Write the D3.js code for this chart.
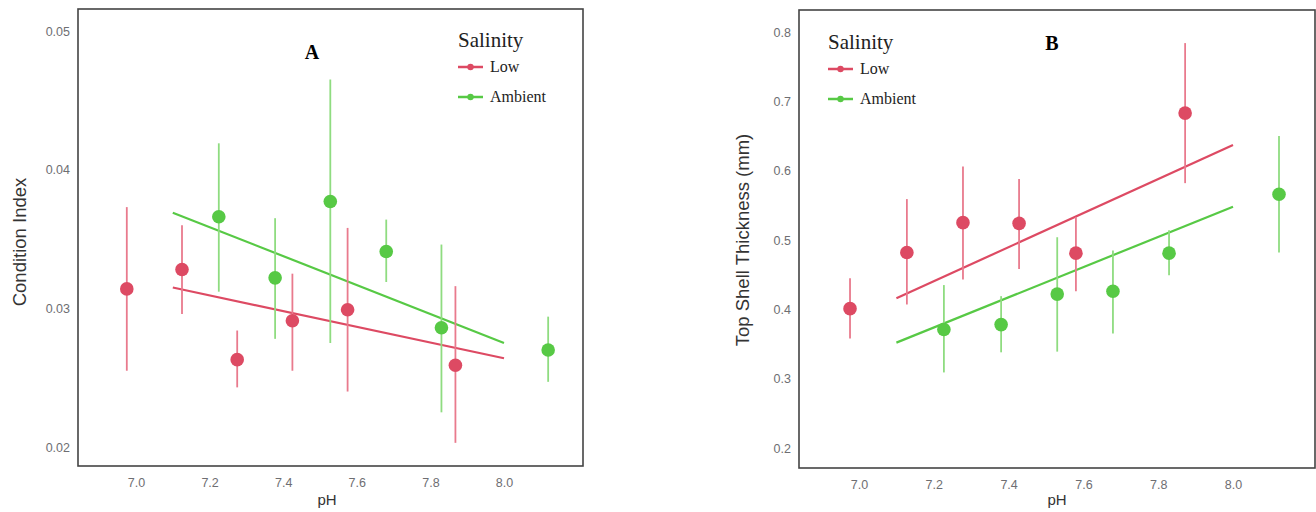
<!DOCTYPE html>
<html>
<head>
<meta charset="utf-8">
<script src="https://cdn.jsdelivr.net/npm/d3@7"></script>
<style>
  html, body { margin: 0; padding: 0; background: #fff; }
  svg { display: block; }
</style>
</head>
<body>
<svg id="chart" width="1316" height="512"></svg>
<script>
// ---------- DATA ----------
const seriesNames = ["Low", "Ambient"];
const xTicks = [7.0, 7.2, 7.4, 7.6, 7.8, 8.0];

// Panel A: Condition Index
const aLowPH   = [6.975, 7.125, 7.275, 7.425, 7.575, 7.868];
const aLowMean = [0.0314, 0.0328, 0.0263, 0.0291, 0.0299, 0.0259];
const aLowLo   = [0.0255, 0.0296, 0.0243, 0.0255, 0.0240, 0.0203];
const aLowHi   = [0.0373, 0.0360, 0.0284, 0.0325, 0.0358, 0.0316];
const aAmbPH   = [7.225, 7.378, 7.528, 7.68, 7.83, 8.12];
const aAmbMean = [0.0366, 0.0322, 0.0377, 0.0341, 0.0286, 0.0270];
const aAmbLo   = [0.0312, 0.0278, 0.0275, 0.0319, 0.0225, 0.0247];
const aAmbHi   = [0.0419, 0.0365, 0.0465, 0.0364, 0.0346, 0.0294];
const aLowFit  = [[7.1, 0.0315], [8.0, 0.0264]];
const aAmbFit  = [[7.1, 0.0369], [8.0, 0.0275]];
const aYTicks  = [0.02, 0.03, 0.04, 0.05];

// Panel B: Top Shell Thickness (mm)
const bLowPH   = [6.976, 7.128, 7.278, 7.428, 7.58, 7.872];
const bLowMean = [0.401, 0.482, 0.525, 0.524, 0.481, 0.683];
const bLowLo   = [0.358, 0.407, 0.443, 0.458, 0.426, 0.582];
const bLowHi   = [0.445, 0.559, 0.606, 0.588, 0.533, 0.784];
const bAmbPH   = [7.227, 7.38, 7.53, 7.679, 7.829, 8.123];
const bAmbMean = [0.371, 0.378, 0.422, 0.426, 0.481, 0.566];
const bAmbLo   = [0.309, 0.338, 0.339, 0.365, 0.449, 0.482];
const bAmbHi   = [0.435, 0.419, 0.504, 0.485, 0.514, 0.650];
const bLowFit  = [[7.1, 0.416], [8.0, 0.637]];
const bAmbFit  = [[7.1, 0.352], [8.0, 0.548]];
const bYTicks  = [0.2, 0.3, 0.4, 0.5, 0.6, 0.7, 0.8];

// ---------- STYLE ----------
const colors = { Low: "#dd4a63", Ambient: "#57c945" };
const barColors = { Low: "#e97a8d", Ambient: "#8fdc80" };

const svg = d3.select("#chart");

function zip(ph, mean, lo, hi) {
  return ph.map((p, i) => ({ ph: p, mean: mean[i], lo: lo[i], hi: hi[i] }));
}

function panel(cfg) {
  const g = svg.append("g");
  const x = d3.scaleLinear().domain([7.0, 8.0]).range(cfg.xRange);
  const y = d3.scaleLinear().domain(cfg.yDomain).range(cfg.yRange);

  // frame
  g.append("rect")
    .attr("x", cfg.box[0]).attr("y", cfg.box[1])
    .attr("width", cfg.box[2] - cfg.box[0]).attr("height", cfg.box[3] - cfg.box[1])
    .attr("fill", "none").attr("stroke", "#444").attr("stroke-width", 1.6);

  // axes (labels only)
  const xAxis = g.append("g").attr("transform", `translate(0,${cfg.box[3]})`)
    .call(d3.axisBottom(x).tickValues(xTicks).tickFormat(d3.format(".1f")).tickSize(0).tickPadding(12));
  xAxis.select(".domain").remove();
  xAxis.selectAll("text").attr("fill", "#6e6e72").style("font-family", "Liberation Sans, Arial, sans-serif").style("font-size", "12.5px");

  const yAxis = g.append("g").attr("transform", `translate(${cfg.yLabelX},0)`)
    .call(d3.axisLeft(y).tickValues(cfg.yTicks).tickFormat(cfg.yFormat).tickSize(0).tickPadding(0));
  yAxis.select(".domain").remove();
  yAxis.selectAll("text").attr("fill", "#6e6e72").style("font-family", "Liberation Sans, Arial, sans-serif").style("font-size", "12.5px");

  // axis titles
  g.append("text").attr("x", cfg.xTitleX).attr("y", 505)
    .attr("text-anchor", "middle").attr("fill", "#333")
    .style("font-family", "Liberation Sans, Arial, sans-serif").style("font-size", "15px")
    .text("pH");
  g.append("text")
    .attr("transform", `translate(${cfg.yTitleX},${cfg.yTitleY}) rotate(-90)`)
    .attr("text-anchor", "middle").attr("fill", "#333")
    .style("font-family", "Liberation Sans, Arial, sans-serif").style("font-size", "18.5px")
    .text(cfg.yTitle);

  // fit lines
  const line = d3.line().x(d => x(d[0])).y(d => y(d[1]));
  [["Ambient", cfg.ambFit], ["Low", cfg.lowFit]].forEach(([k, f]) => {
    g.append("path").attr("d", line(f)).attr("fill", "none")
      .attr("stroke", colors[k]).attr("stroke-width", 2.2);
  });

  // error bars and points
  [["Low", cfg.low], ["Ambient", cfg.amb]].forEach(([k, data]) => {
    const s = g.append("g");
    s.selectAll("line").data(data).join("line")
      .attr("x1", d => x(d.ph)).attr("x2", d => x(d.ph))
      .attr("y1", d => y(d.lo)).attr("y2", d => y(d.hi))
      .attr("stroke", barColors[k]).attr("stroke-width", 1.8);
    s.selectAll("circle").data(data).join("circle")
      .attr("cx", d => x(d.ph)).attr("cy", d => y(d.mean))
      .attr("r", 6.8).attr("fill", colors[k]);
  });

  // panel letter
  g.append("text").attr("x", cfg.letterPos[0]).attr("y", cfg.letterPos[1])
    .attr("text-anchor", "middle").attr("fill", "#000")
    .style("font-family", "Liberation Serif, Times New Roman, serif")
    .style("font-size", "20px").style("font-weight", "bold")
    .text(cfg.letter);

  // legend
  const lg = g.append("g").attr("transform", `translate(${cfg.legend[0]},${cfg.legend[1]})`);
  lg.append("text").attr("x", 0).attr("y", 0).attr("fill", "#222")
    .style("font-family", "Liberation Serif, Times New Roman, serif").style("font-size", "21px")
    .text("Salinity");
  seriesNames.forEach((k, i) => {
    const yy = 20 + i * 30;
    lg.append("line").attr("x1", 0).attr("x2", 25).attr("y1", yy).attr("y2", yy)
      .attr("stroke", colors[k]).attr("stroke-width", 2.5);
    lg.append("circle").attr("cx", 12.5).attr("cy", yy).attr("r", 3.2).attr("fill", colors[k]);
    lg.append("text").attr("x", 32).attr("y", yy + 5).attr("fill", "#222")
      .style("font-family", "Liberation Serif, Times New Roman, serif").style("font-size", "16px")
      .text(k);
  });
}

panel({
  box: [78, 9, 583, 466],
  xRange: [136, 504],
  yDomain: [0.02, 0.05], yRange: [447, 31],
  yTicks: aYTicks, yFormat: d3.format(".2f"), yLabelX: 70,
  xTitleX: 327, yTitleX: 26, yTitleY: 242, yTitle: "Condition Index",
  low: zip(aLowPH, aLowMean, aLowLo, aLowHi),
  amb: zip(aAmbPH, aAmbMean, aAmbLo, aAmbHi),
  lowFit: aLowFit, ambFit: aAmbFit,
  letter: "A", letterPos: [312, 59],
  legend: [458, 47]
});

panel({
  box: [799, 10, 1315, 468],
  xRange: [859, 1233],
  yDomain: [0.2, 0.8], yRange: [448, 32],
  yTicks: bYTicks, yFormat: d3.format(".1f"), yLabelX: 791,
  xTitleX: 1057, yTitleX: 749, yTitleY: 240, yTitle: "Top Shell Thickness (mm)",
  low: zip(bLowPH, bLowMean, bLowLo, bLowHi),
  amb: zip(bAmbPH, bAmbMean, bAmbLo, bAmbHi),
  lowFit: bLowFit, ambFit: bAmbFit,
  letter: "B", letterPos: [1052, 50],
  legend: [828, 49]
});
</script>
</body>
</html>
